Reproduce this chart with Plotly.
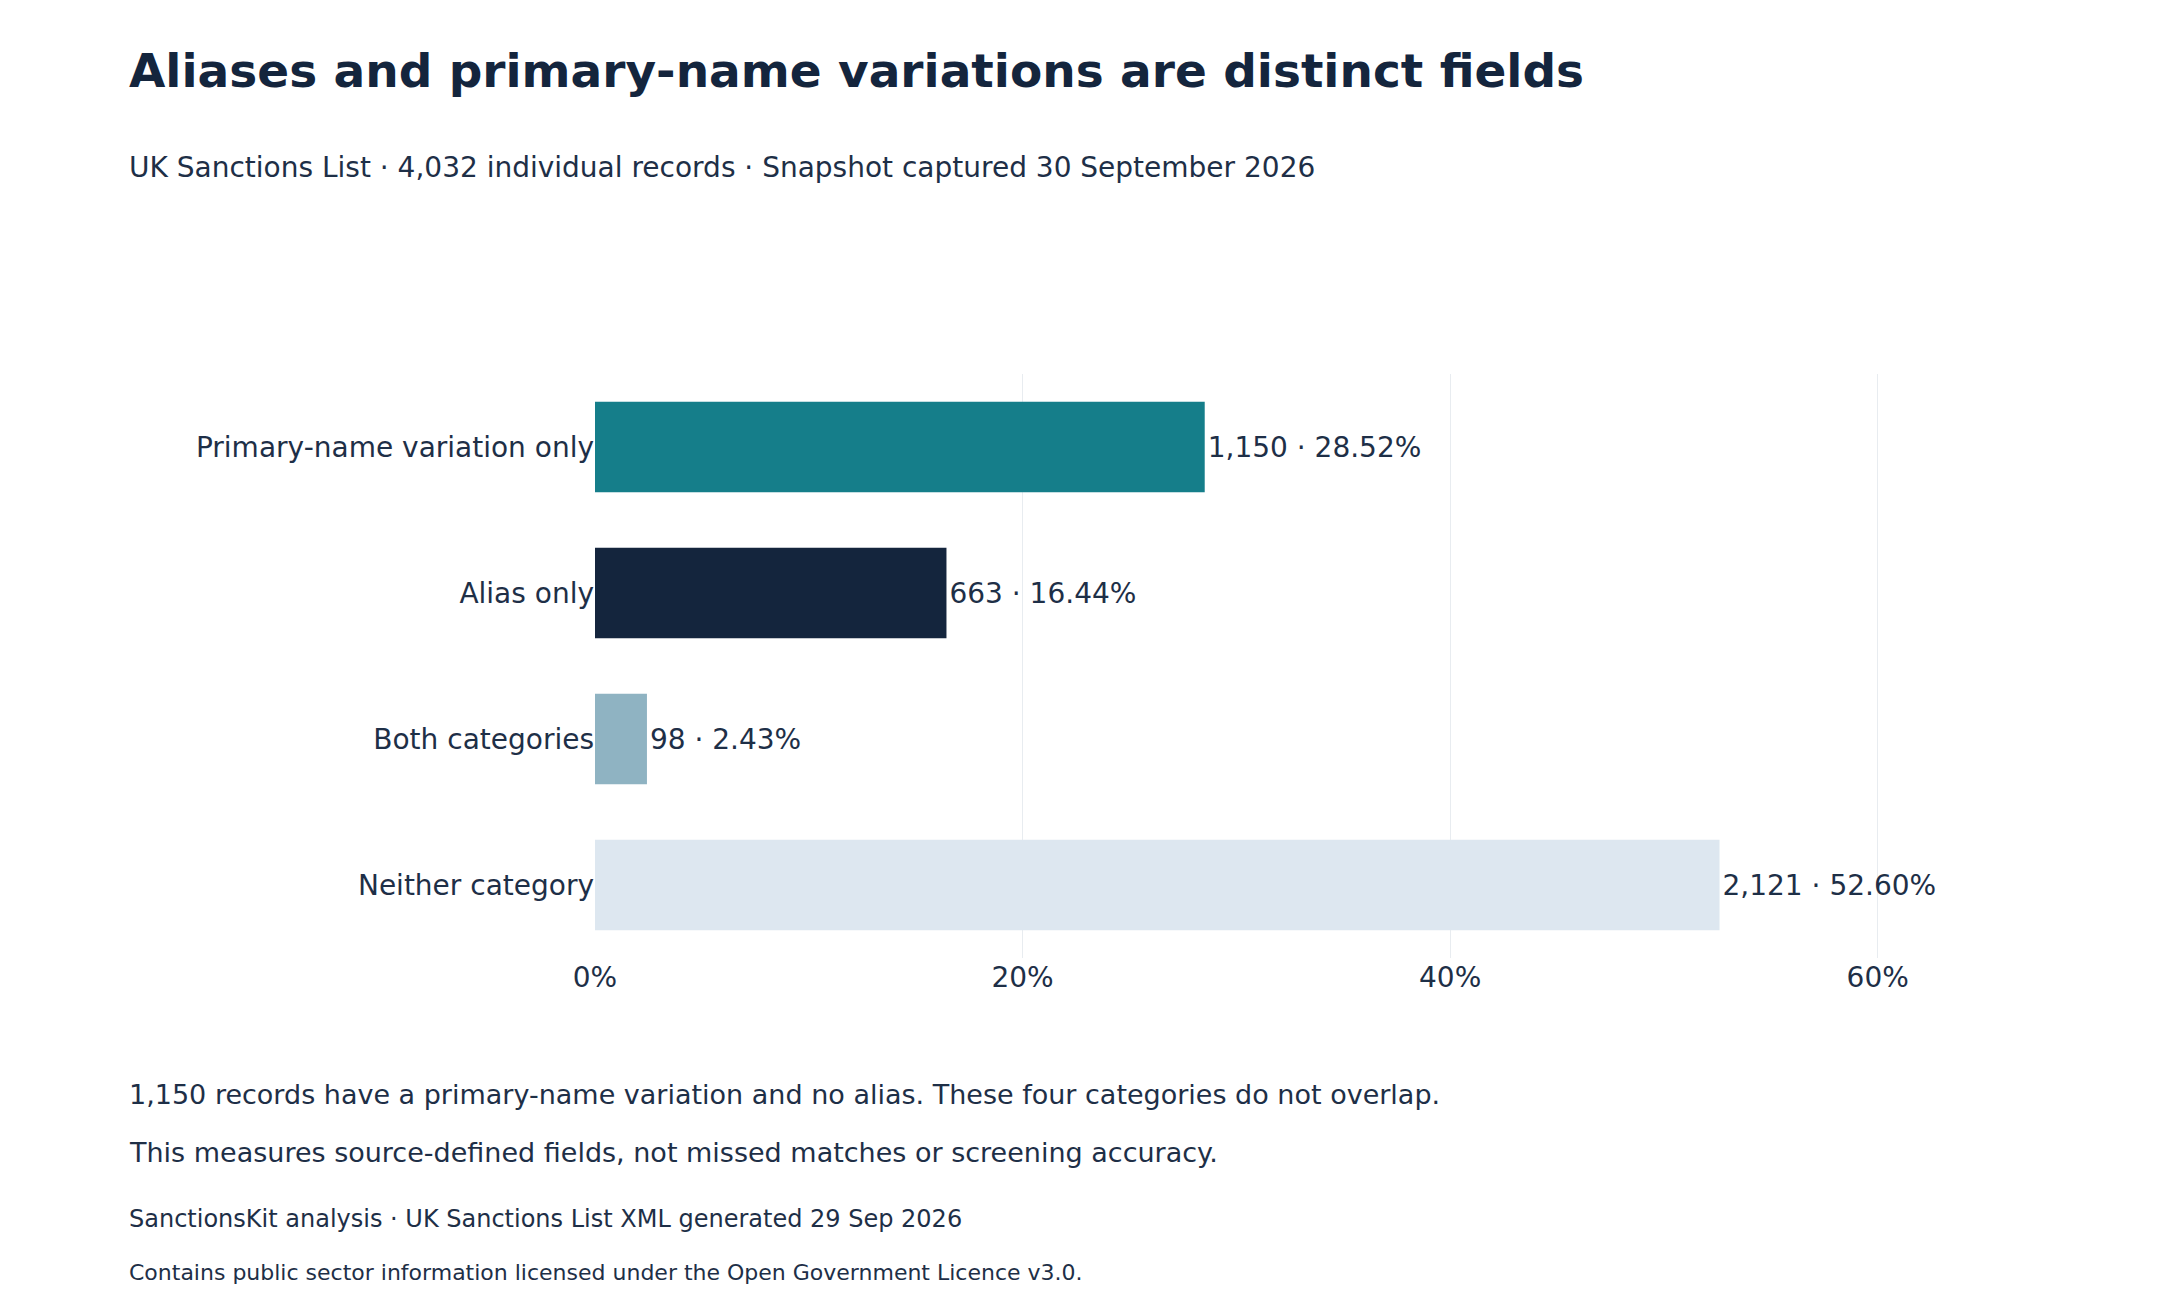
import plotly.graph_objects as go

categories = ["Primary-name variation only", "Alias only", "Both categories", "Neither category"]
counts = [1150, 663, 98, 2121]
shares = [28.52, 16.44, 2.43, 52.60]
colors = ["#157e8a", "#14253d", "#8fb3c2", "#dde7f0"]
tick_vals = [0, 20, 40, 60]
tick_text = ["0%", "20%", "40%", "60%"]

W, H = 2160, 1296
L, R, T, B = 587, 162, 366, 346
txt = "#1e2f47"
font = "DejaVu Sans"

labels = [f"{c:,} · {s:.2f}%" for c, s in zip(counts, shares)]

fig = go.Figure(go.Bar(
    x=shares, y=categories, orientation="h",
    marker=dict(color=colors, line=dict(width=0)),
    text=labels, textposition="outside", cliponaxis=False,
    textfont=dict(size=28, color=txt, family=font),
    hoverinfo="skip",
))

def px(x, y):
    return (x - L) / (W - L - R), 1 - (y - T) / (H - T - B)

anns = []
def add(text, x, y, size, bold=False):
    xp, yp = px(x, y)
    anns.append(dict(text=f"<b>{text}</b>" if bold else text, x=xp, y=yp,
                     xref="paper", yref="paper", xanchor="left", yanchor="middle",
                     showarrow=False, font=dict(size=size, color="#14253d" if bold else txt, family=font)))

add("Aliases and primary-name variations are distinct fields", 119, 62, 47, True)
add("UK Sanctions List · 4,032 individual records · Snapshot captured 30 September 2026", 119, 159, 28)
add("1,150 records have a primary-name variation and no alias. These four categories do not overlap.", 119, 1086, 27)
add("This measures source-defined fields, not missed matches or screening accuracy.", 119, 1144, 27)
add("SanctionsKit analysis · UK Sanctions List XML generated 29 Sep 2026", 119, 1211, 24)
add("Contains public sector information licensed under the Open Government Licence v3.0.", 119, 1264, 22)

fig.update_layout(
    width=W, height=H, margin=dict(l=L, r=R, t=T, b=B),
    paper_bgcolor="white", plot_bgcolor="white",
    bargap=0.38, showlegend=False, annotations=anns,
    font=dict(family=font, color=txt),
    xaxis=dict(range=[0, 66], tickvals=tick_vals, ticktext=tick_text,
               showgrid=True, gridcolor="#e8ecf0", gridwidth=1, zeroline=False,
               tickfont=dict(size=28, color=txt), ticks="", showline=False),
    yaxis=dict(categoryorder="array", categoryarray=categories[::-1],
               tickfont=dict(size=28, color=txt), ticks="", ticklen=0, showgrid=False),
)
fig.write_html("out.html")
